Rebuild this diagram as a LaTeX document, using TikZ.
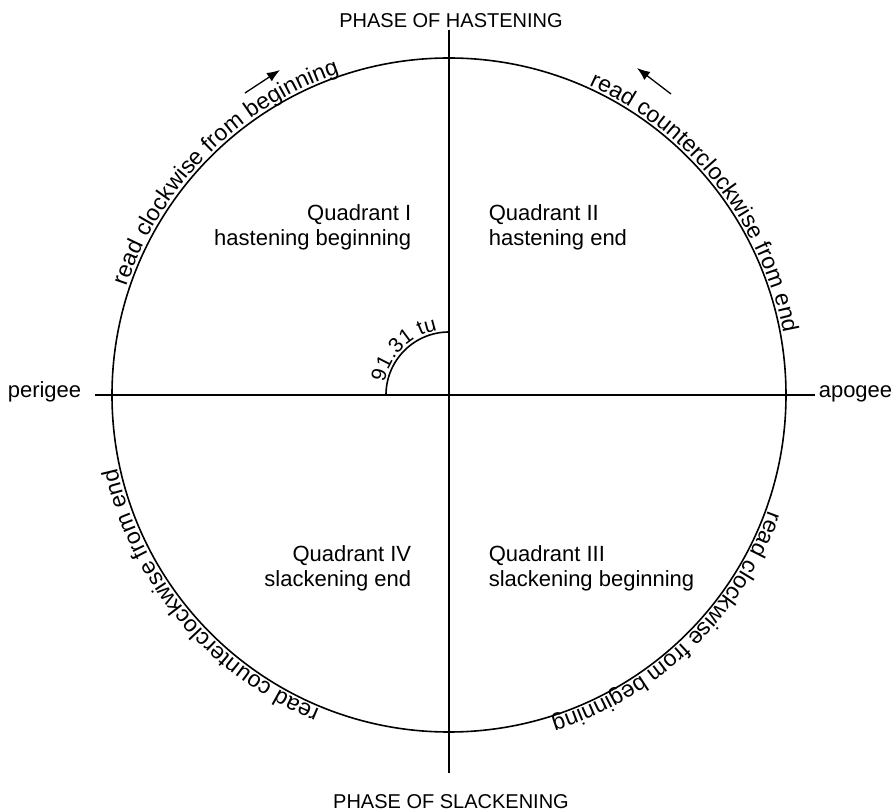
\documentclass[tikz,border=0pt]{standalone}
\usepackage{fontspec}
\setmainfont{Liberation Sans}
\usetikzlibrary{decorations.text,arrows.meta}
\newcommand\circfont{\fontsize{23}{27}\selectfont}
\newcommand\arcfont{\fontsize{21}{24}\selectfont}
\begin{document}
\begin{tikzpicture}[x=1pt,y=1pt,line width=1.6pt,
  quad/.style={font=\fontsize{22}{25.5}\selectfont, inner sep=0pt},
  endlabel/.style={font=\fontsize{22}{26}\selectfont, inner sep=0pt},
  phase/.style={font=\fontsize{20}{24}\selectfont, inner sep=0pt, anchor=base},
  dirarrow/.style={line width=1.3pt, -{Latex[length=13pt,width=10pt]}},
  circtext/.style={decorate, decoration={text along path, raise=3pt, text={|\circfont|#1}}},
  arctext/.style={decorate, decoration={text along path, raise=2.5pt, text={|\arcfont|#1}}}]
\useasboundingbox (-449,-416) rectangle (446,395);
\coordinate (C) at (0,0);
% main circle
\draw (C) circle[radius=337pt];
% axes
\coordinate (vt) at (0,365);
\coordinate (vb) at (0,-378);
\coordinate (hl) at (-354,0);
\coordinate (hr) at (366,0);
\draw (vt) -- (vb);
\draw (hl) -- (hr);
% end labels
\node[endlabel, anchor=base east] (perigee) at (-367,-3) {perigee};
\node[endlabel, anchor=base west] (apogee) at (369,-3) {apogee};
\node[phase] (hasten) at (2,367) {PHASE OF HASTENING};
\node[phase] (slacken) at (2,-413) {PHASE OF SLACKENING};
% quadrant labels
\node[quad, anchor=base east, align=right] (q1) at (-37,149) {Quadrant I\\hastening beginning};
\node[quad, anchor=base west, align=left] (q2) at (39,149) {Quadrant II\\hastening end};
\node[quad, anchor=base east, align=right] (q4) at (-37,-192) {Quadrant IV\\slackening end};
\node[quad, anchor=base west, align=left] (q3) at (39,-192) {Quadrant III\\slackening beginning};
% small arc with label
\draw (-63,0) arc[start angle=180, end angle=90, radius=63pt];
\path[arctext={91.31 tu}] (169:63pt) arc[start angle=169, end angle=50, radius=63pt];
% text along circle
\path[circtext={read clockwise from beginning}] (161.4:337pt) arc[start angle=161.4, end angle=80, radius=337pt];
\path[circtext={read counterclockwise from end}] (65.7:337pt) arc[start angle=65.7, end angle=-20, radius=337pt];
\path[circtext={read clockwise from beginning}] (-19.9:337pt) arc[start angle=-19.9, end angle=-100, radius=337pt];
\path[circtext={read counterclockwise from end}] (-112.3:337pt) arc[start angle=-112.3, end angle=-200, radius=337pt];
% direction arrows
\coordinate (la1) at (-204,302);
\coordinate (la2) at (-169,325);
\coordinate (ra1) at (222,301);
\coordinate (ra2) at (188,327);
\draw[dirarrow] (la1) -- (la2);
\draw[dirarrow] (ra1) -- (ra2);
\end{tikzpicture}
\end{document}
